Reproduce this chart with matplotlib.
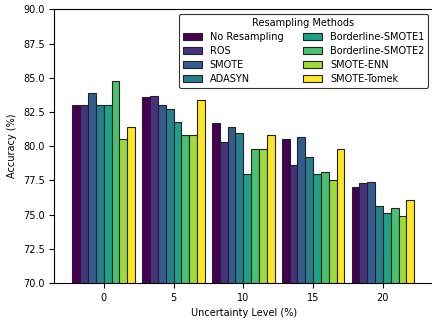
import matplotlib
matplotlib.use("Agg")
import matplotlib.pyplot as plt
import numpy as np

levels = [0, 5, 10, 15, 20]
methods = ['No Resampling', 'ROS', 'SMOTE', 'ADASYN',
           'Borderline-SMOTE1', 'Borderline-SMOTE2', 'SMOTE-ENN', 'SMOTE-Tomek']

no_resampling = [83.0, 83.6, 81.7, 80.5, 77.0]
ros = [83.0, 83.7, 80.3, 78.6, 77.3]
smote = [83.9, 83.0, 81.4, 80.7, 77.4]
adasyn = [83.0, 82.7, 81.0, 79.2, 75.6]
bsmote1 = [83.0, 81.8, 78.0, 78.0, 75.1]
bsmote2 = [84.8, 80.8, 79.8, 78.1, 75.5]
smote_enn = [80.5, 80.8, 79.8, 77.5, 74.9]
smote_tomek = [81.4, 83.4, 80.8, 79.8, 76.1]

series = [no_resampling, ros, smote, adasyn, bsmote1, bsmote2, smote_enn, smote_tomek]

plt.rcParams['font.size'] = 7

fig = plt.figure(figsize=(4.32, 3.2), dpi=100)
ax = fig.add_axes([0.1257, 0.1156, 0.877, 0.855])

colors = plt.cm.viridis(np.linspace(0, 1, len(methods)))
width = 0.56
x = np.array(levels, dtype=float)

for i, (name, vals) in enumerate(zip(methods, series)):
    ax.bar(x + (i - 3.5) * width, vals, width=width, color=colors[i],
           edgecolor='#222222', linewidth=0.8, label=name)

ax.set_ylim(70, 90)
ax.set_xlim(-3.54, 23.6)
ax.set_xticks(levels)
ax.set_xlabel('Uncertainty Level (%)')
ax.set_ylabel('Accuracy (%)')

leg = ax.legend(title='Resampling Methods', ncol=2, loc='upper right',
                fontsize=7, title_fontsize=7, edgecolor='black', fancybox=True,
                labelspacing=0.4)
leg.get_frame().set_linewidth(0.8)

fig.savefig('out.png', dpi=100)
